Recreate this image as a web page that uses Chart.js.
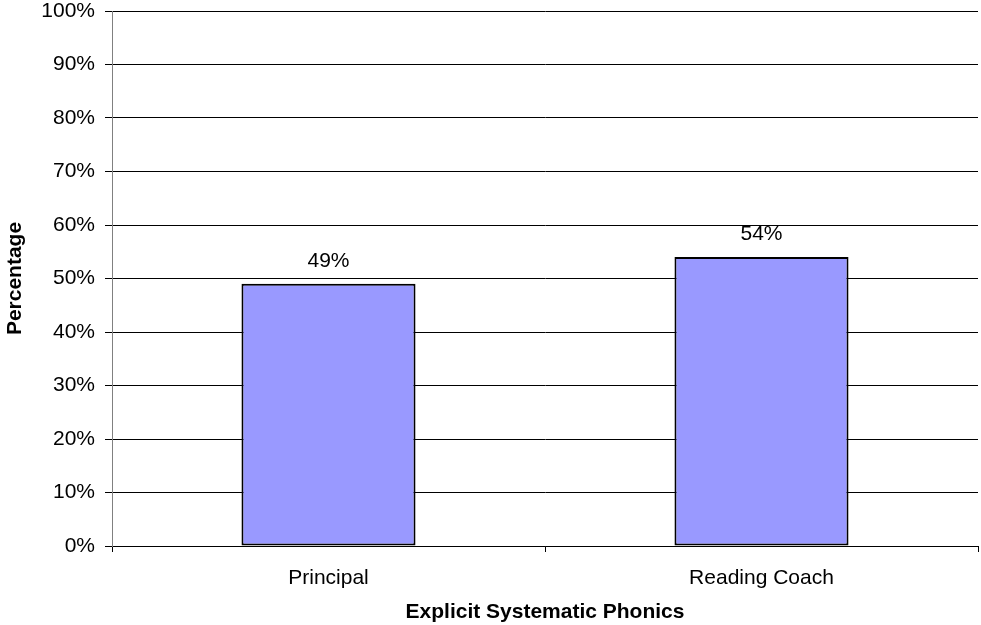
<!DOCTYPE html>
<html>
<head>
<meta charset="utf-8">
<script src="https://cdn.jsdelivr.net/npm/chart.js@4/dist/chart.umd.min.js"></script>
<style>
  html, body { margin: 0; padding: 0; background: #ffffff; }
  #wrap { width: 981px; height: 625px; position: relative; }
</style>
</head>
<body>
<div id="wrap"><canvas id="chart" width="981" height="625"></canvas></div>
<script>
// Share of respondents reporting explicit systematic phonics
const categories = ['Principal', 'Reading Coach'];
const percentages = [49, 54];
const yTickValues = [0, 10, 20, 30, 40, 50, 60, 70, 80, 90, 100];

const FONT = 'Liberation Sans, Arial, Helvetica, sans-serif';

// Draws the value label centred above each bar
const valueLabels = {
  id: 'valueLabels',
  afterDatasetsDraw(chart) {
    const ctx = chart.ctx;
    const meta = chart.getDatasetMeta(0);
    ctx.save();
    ctx.font = '21px ' + FONT;
    ctx.fillStyle = '#000000';
    ctx.textAlign = 'center';
    ctx.textBaseline = 'middle';
    meta.data.forEach((bar, i) => {
      ctx.fillText(percentages[i] + '%', bar.x, bar.y - 23);
    });
    ctx.restore();
  }
};

new Chart(document.getElementById('chart'), {
  type: 'bar',
  data: {
    labels: categories,
    datasets: [{
      data: percentages,
      backgroundColor: '#9999ff',
      borderColor: '#000000',
      borderWidth: 2,
      borderSkipped: false,
      categoryPercentage: 1.0,
      barPercentage: 0.402
    }]
  },
  options: {
    responsive: false,
    animation: false,
    devicePixelRatio: 1,
    layout: { padding: { top: 11, right: 3, left: 0, bottom: 0 } },
    plugins: {
      legend: { display: false },
      tooltip: { enabled: false }
    },
    scales: {
      x: {
        type: 'category',
        offset: true,
        border: { display: true, color: '#000000', width: 1 },
        grid: {
          offset: true,
          drawOnChartArea: false,
          drawTicks: true,
          tickLength: 6,
          color: '#000000'
        },
        ticks: {
          color: '#000000',
          padding: 16,
          maxRotation: 0,
          font: { family: FONT, size: 21, lineHeight: 1.0 }
        },
        title: {
          display: true,
          text: 'Explicit Systematic Phonics',
          color: '#000000',
          padding: { top: 0, bottom: 0 },
          font: { family: FONT, size: 21, weight: 'bold' }
        },
        afterFit(scale) {
          scale.height = 79;
          scale.paddingLeft = 0;
          scale.paddingRight = 0;
        }
      },
      y: {
        min: 0,
        max: 100,
        afterBuildTicks(scale) {
          scale.ticks = yTickValues.map(v => ({ value: v }));
        },
        border: { display: true, color: '#808080', width: 1 },
        grid: {
          color: '#000000',
          lineWidth: 1,
          drawTicks: true,
          tickLength: 7,
          tickColor: '#000000'
        },
        ticks: {
          color: '#000000',
          padding: 10,
          font: { family: FONT, size: 21, lineHeight: 1.0 },
          callback: v => v + '%'
        },
        title: {
          display: true,
          text: 'Percentage',
          color: '#000000',
          padding: { top: 3, bottom: 0 },
          font: { family: FONT, size: 21, weight: 'bold' }
        },
        afterFit(scale) {
          scale.width = 112;
          scale.paddingTop = 0;
          scale.paddingBottom = 0;
        }
      }
    }
  },
  plugins: [valueLabels]
});
</script>
</body>
</html>
